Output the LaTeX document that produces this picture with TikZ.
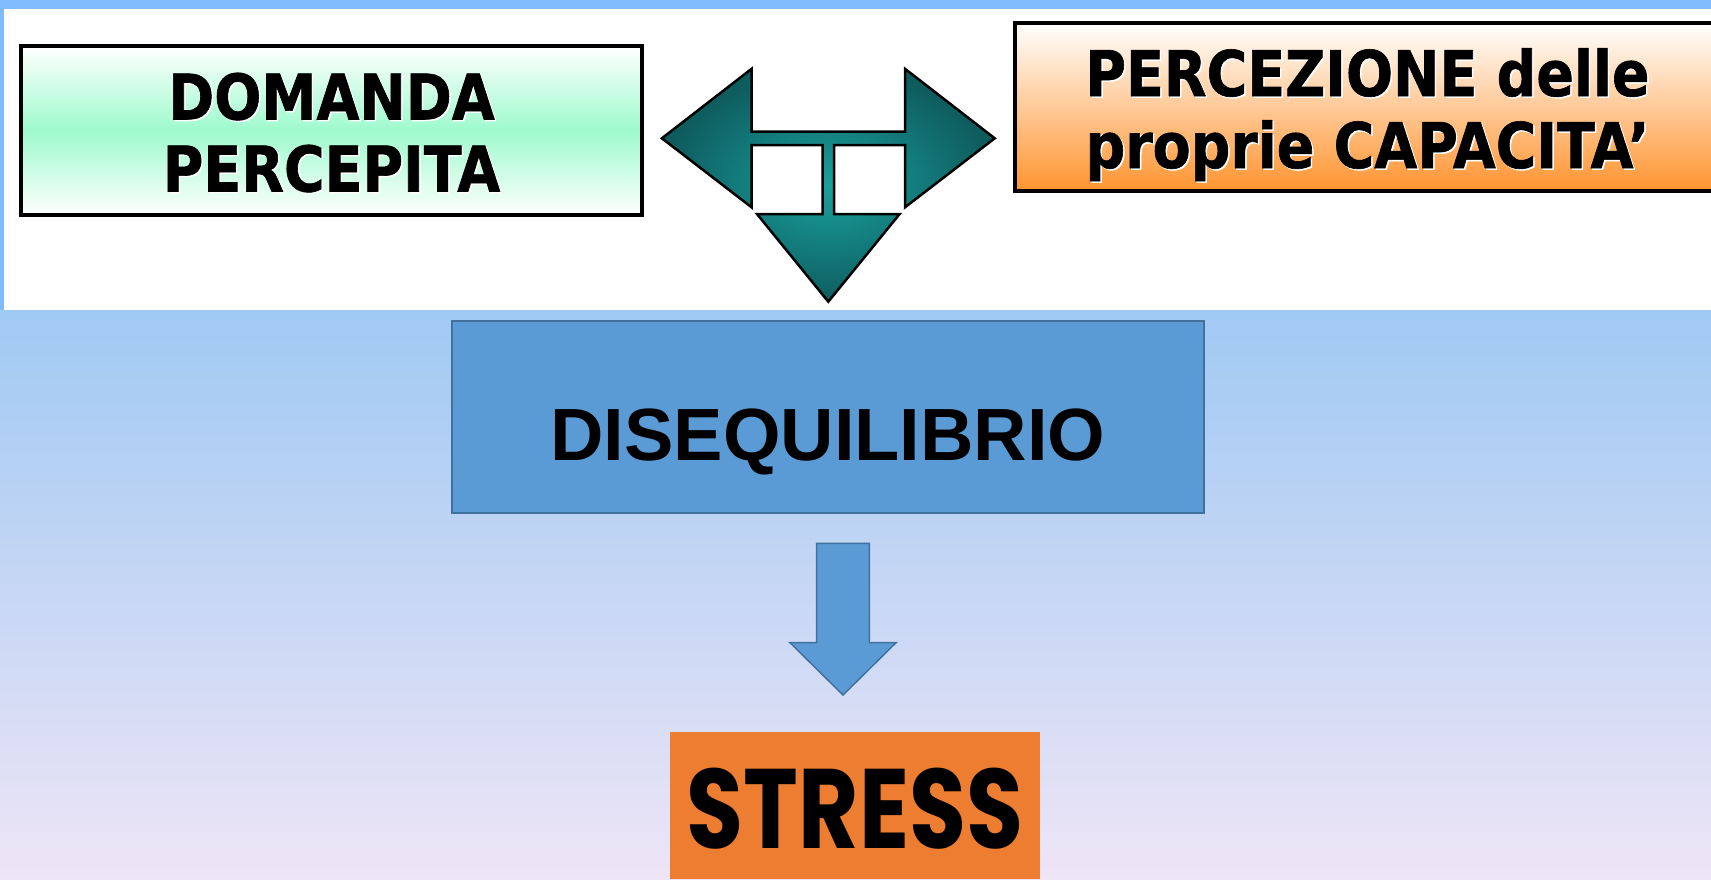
\documentclass[tikz,border=0pt]{standalone}
\usepackage{fontspec}
\usepackage{xcolor}
\usepackage{tikz}
\newfontfamily\boxfont{DejaVu Sans}[FakeStretch=0.88, FakeBold=1]
\newfontfamily\disfont{Liberation Sans}
\newfontfamily\stressfont{Poppins}[FakeStretch=0.82]
\definecolor{stripblue}{RGB}{128,187,255}
\definecolor{bgtop}{RGB}{160,201,243}
\definecolor{bgbot}{RGB}{238,229,246}
\definecolor{mint}{RGB}{158,250,205}
\definecolor{peach}{RGB}{255,148,48}
\definecolor{tealin}{RGB}{26,160,158}
\definecolor{tealout}{RGB}{14,92,94}
\definecolor{disfill}{RGB}{91,155,213}
\definecolor{disline}{RGB}{65,113,156}
\definecolor{stressfill}{RGB}{237,125,49}
% one line of box text: fixed height and depth, white shadow behind
\newcommand{\capline}[1]{\raisebox{-2pt}[46pt][0pt]{\makebox[0pt][l]{\hspace{1.5pt}\raisebox{-1.5pt}{\textcolor{white}{#1}}}#1}}

\begin{document}
\begin{tikzpicture}[x=1pt, y=-1pt, semithick]
					\tikzstyle{topbox}=[draw, line width=4pt, align=center, inner sep=0pt, font=\boxfont\bfseries\fontsize{63}{72}\selectfont]
					\tikzstyle{blockarrow}=[fill=disfill, draw=disline, line width=1.5pt]
					\useasboundingbox (0,0) rectangle (1711,879);
					\fill[stripblue] (0,0) rectangle (1711,310);
					\fill[white] (4,9) rectangle (1711,310);
					\shade[top color=bgtop, bottom color=bgbot] (0,310) rectangle (1711,879);

					\node[topbox, minimum width=621pt, minimum height=169pt, top color=white, bottom color=white, middle color=mint] (dom) at (331.5,130.5) {\capline{DOMANDA}\\\capline{PERCEPITA}};
					\node[topbox, minimum width=705pt, minimum height=168pt, top color=white, bottom color=peach] (perc) at (1367.5,107) {\capline{PERCEZIONE delle}\\\capline{proprie CAPACITA’}};

					\coordinate (hub) at (828.3,138.3);
					\shadedraw[shift={(hub)}, line width=2.5pt, inner color=tealin, outer color=tealout] (-166.4,0) -- (-76.7,-69.5) -- (-76.7,-6.6) -- (76.7,-6.6) -- (76.7,-69.5) -- (166.4,0) -- (76.7,69) -- (76.7,6.7) -- (5.7,6.7) -- (5.7,75.7) -- (71.3,75.7) -- (0,163.4) -- (-71.3,75.7) -- (-5.7,75.7) -- (-5.7,6.7) -- (-76.7,6.7) -- (-76.7,69) -- cycle;

					\node[draw=disline, line width=2pt, fill=disfill, minimum width=752pt, minimum height=192.6pt, inner ysep=52.6pt, text height=87.4pt, text depth=0pt, font=\disfont\bfseries\fontsize{74}{80}\selectfont] (dis) at (828,417) {DISEQUILIBRIO};

					\coordinate (drop) at (843,543.3);
					\path[blockarrow, shift={(drop)}] (-26.3,0) -- (26.3,0) -- (26.3,99.4) -- (53,99.4) -- (0,151.7) -- (-53,99.4) -- (-26.3,99.4) -- cycle;

					\node[fill=stressfill, anchor=north, minimum width=370pt, inner ysep=31pt, text height=85pt, text depth=0pt, font=\stressfont\bfseries\fontsize{113}{120}\selectfont] (stress) at (855,732) {STRESS};
\end{tikzpicture}
\end{document}
